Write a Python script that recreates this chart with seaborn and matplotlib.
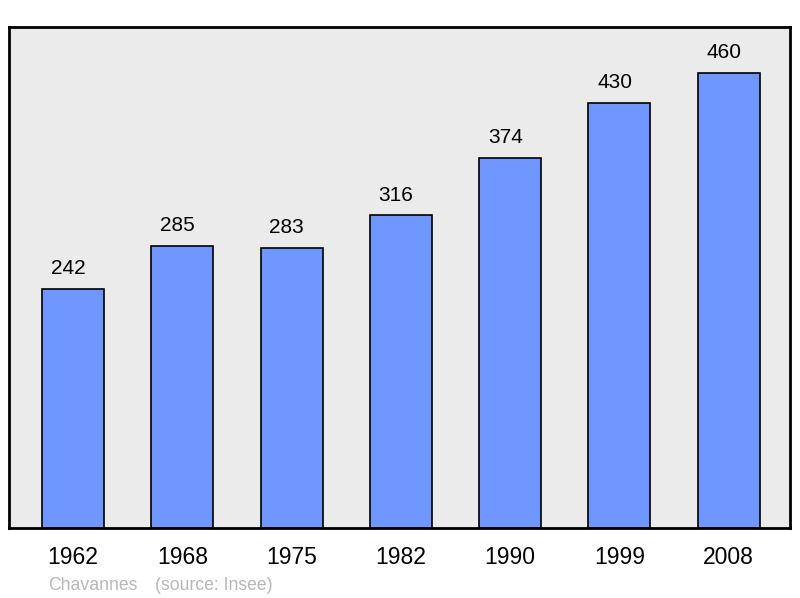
import matplotlib
matplotlib.use('Agg')
import matplotlib.pyplot as plt
import seaborn as sns
import pandas as pd

# data
years = ['1962', '1968', '1975', '1982', '1990', '1999', '2008']
population = [242, 285, 283, 316, 374, 430, 460]
commune = 'Chavannes'
source = '(source: Insee)'

BAR = '#7096ff'
BG = '#ebebeb'

sns.set_style('white')
plt.rcParams['font.family'] = ['Liberation Sans', 'DejaVu Sans']

df = pd.DataFrame({'year': years, 'pop': population})

fig = plt.figure(figsize=(8, 5.98), dpi=100)
ax = fig.add_axes([9 / 800, 70 / 598, 781 / 800, 501 / 598])
ax.set_facecolor(BG)

sns.barplot(data=df, x='year', y='pop', order=years, color=BAR,
            saturation=1, width=0.567, edgecolor='black', linewidth=1.2, ax=ax)

for i, v in enumerate(population):
    ax.text(i - 0.045, v + 11, str(v), ha='center', va='bottom', fontsize=15, color='black')

ax.set_xlim(-0.585, 6.56)
ax.set_ylim(0, 506.5)
ax.set_yticks([])
ax.set_xlabel('')
ax.set_ylabel('')
ax.tick_params(axis='x', length=0, labelsize=16.5, labelcolor='black', pad=13)
for s in ax.spines.values():
    s.set_visible(True)
    s.set_color('black')
    s.set_linewidth(2)

fig.text(48 / 800, 1 - 586 / 598, commune, fontsize=12.7, color='#b8b8b8', va='center')
fig.text(155 / 800, 1 - 586 / 598, source, fontsize=12.7, color='#b8b8b8', va='center')

fig.savefig('out.png', dpi=100)
